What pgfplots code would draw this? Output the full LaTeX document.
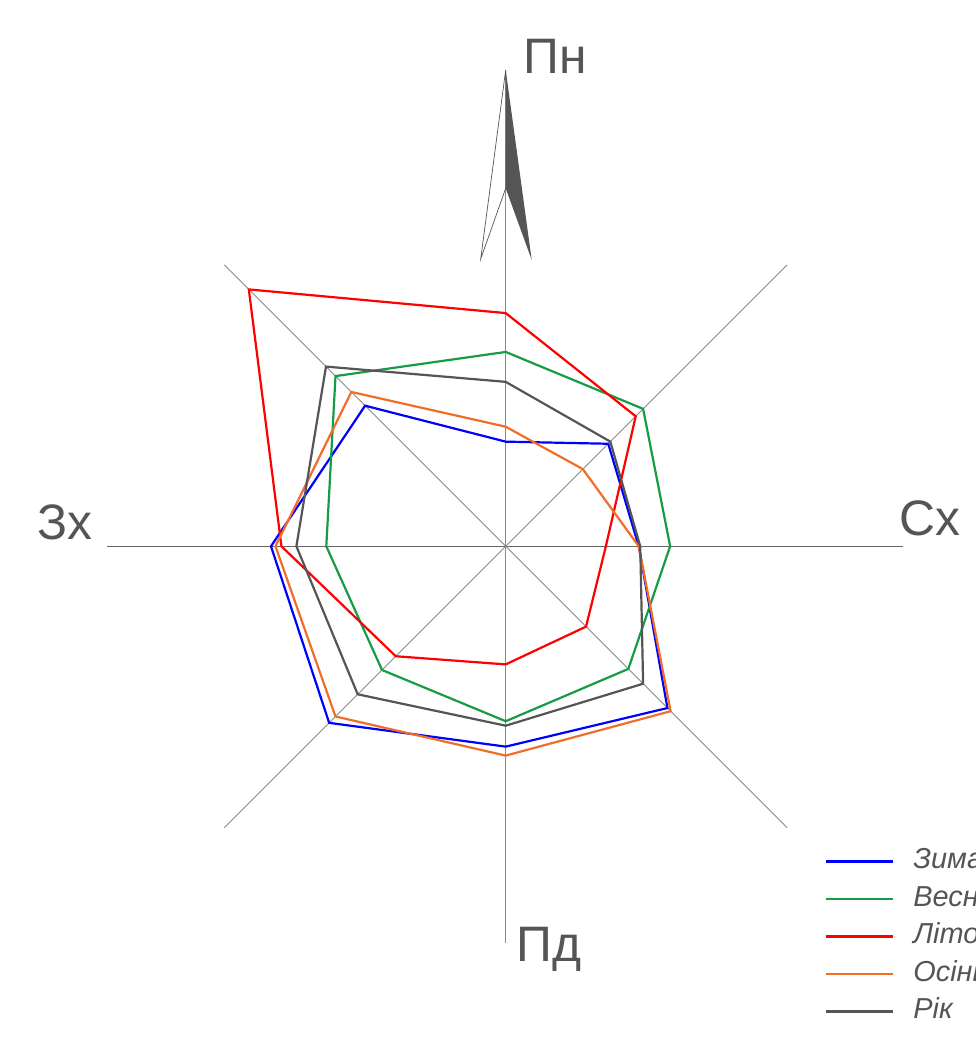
\documentclass[border=0pt]{standalone}
\usepackage{pgfplots}
\pgfplotsset{compat=1.18}
\usepackage{pgfplotstable}
\usepackage{fontspec}
\setmainfont{Liberation Sans}
\definecolor{ctext}{HTML}{555555}
\definecolor{czima}{HTML}{0000FF}
\definecolor{cvesna}{HTML}{169B47}
\definecolor{clito}{HTML}{FF0000}
\definecolor{cosin}{HTML}{F06E28}
\definecolor{crik}{HTML}{555555}
\definecolor{cspoke}{HTML}{8A8A8A}
\definecolor{cspokeh}{HTML}{666666}

\pgfplotstableread{
a zima vesna lito osin rik
90 7.0 13.0 15.6 8.0 11.0
45 9.7 13.0 12.3 7.3 9.9
0 8.9 11.0 6.7 8.9 9.0
-45 15.3 11.6 7.6 15.6 13.0
-90 13.4 11.7 7.9 14.0 12.0
-135 16.7 11.7 10.4 16.1 14.0
-180 15.7 12.0 15.0 15.4 14.0
-225 13.3 16.1 24.3 14.6 17.0
}\datatable

\begin{document}
\begin{tikzpicture}
\useasboundingbox (0,0) rectangle (976bp,1043bp);
\begin{axis}[
  at={(0,0)}, anchor=south west,
  x=1bp, y=1bp,
  xmin=-505.7, xmax=470.3, ymin=-496.7, ymax=546.3,
  hide axis, clip=false,
  legend style={at={(axis cs:319.3,-301.4)}, anchor=north west,
    draw=none, fill=none, inner sep=0pt, outer sep=0pt,
    font=\itshape\fontsize{29}{35}\selectfont, text=ctext,
    row sep=10bp,
    nodes={inner sep=0pt, text height=21bp, text depth=6.5bp},
    /tikz/every odd column/.append style={column sep=19.5bp}},
  legend cell align=left,
  legend image code/.code={\draw[#1] (0bp,0bp) -- (66.7bp,0bp);},
]
% spokes
\draw[cspokeh, line width=1bp] (axis cs:-398.7,0) -- (axis cs:397,0);
\draw[cspoke, line width=1bp] (axis cs:0,398) -- (axis cs:0,-397);
\draw[cspoke, line width=0.9bp] (axis cs:-281.4,281.4) -- (axis cs:281.4,-281.4);
\draw[cspoke, line width=0.9bp] (axis cs:281.4,281.4) -- (axis cs:-281.4,-281.4);
% north arrow
\filldraw[fill=white, draw=ctext, line width=0.7bp] (axis cs:0,476.3) -- (axis cs:-25,287.3) -- (axis cs:0,358) -- cycle;
\fill[ctext] (axis cs:0,476.3) -- (axis cs:26,286.3) -- (axis cs:0,358) -- cycle;
% direction labels
\node[anchor=base, font=\fontsize{50}{60}\selectfont, text=ctext] at (axis cs:49.8,472.3) {Пн};
\node[anchor=base, font=\fontsize{50}{60}\selectfont, text=ctext] at (axis cs:424.3,10.3) {Сх};
\node[anchor=base, font=\fontsize{50}{60}\selectfont, text=ctext] at (axis cs:43.3,-414.7) {Пд};
\node[anchor=base, font=\fontsize{50}{60}\selectfont, text=ctext] at (axis cs:-441.2,6.3) {Зх};
% data
\addplot[czima, line width=2.2bp, data cs=polar] table[x=a, y expr=\thisrow{zima}*14.95] {\datatable} -- cycle;
\addlegendentry{Зима}
\addplot[cvesna, line width=2.2bp, data cs=polar] table[x=a, y expr=\thisrow{vesna}*14.95] {\datatable} -- cycle;
\addlegendentry{Весна}
\addplot[clito, line width=2.2bp, data cs=polar] table[x=a, y expr=\thisrow{lito}*14.95] {\datatable} -- cycle;
\addlegendentry{Літо}
\addplot[cosin, line width=2.2bp, data cs=polar] table[x=a, y expr=\thisrow{osin}*14.95] {\datatable} -- cycle;
\addlegendentry{Осінь}
\addplot[crik, line width=2.2bp, data cs=polar] table[x=a, y expr=\thisrow{rik}*14.95] {\datatable} -- cycle;
\addlegendentry{Рік}
\end{axis}
\end{tikzpicture}
\end{document}
